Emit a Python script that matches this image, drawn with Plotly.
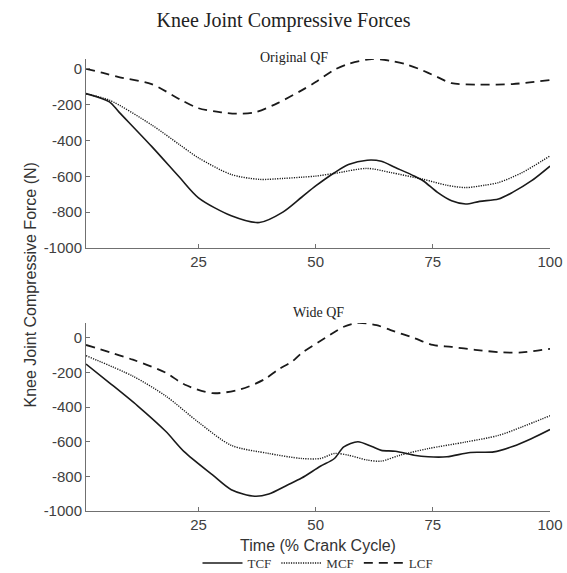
import plotly.graph_objects as go
from plotly.subplots import make_subplots

# Knee joint compressive forces over the crank cycle (N), two QF conditions.
# Original QF
orig_tcf_x = [1, 6, 8, 15, 21, 25, 32, 38, 43, 47, 50, 54, 57, 61, 64, 67, 71, 73, 76, 79, 82, 85, 89, 92, 96, 100]
orig_tcf_y = [-138, -184, -240, -433, -607, -720, -820, -858, -800, -717, -654, -580, -534, -510, -516, -551,
              -598, -626, -690, -737, -755, -740, -727, -690, -626, -543]
orig_mcf_x = [1, 6, 15, 21, 25, 32, 38, 43, 47, 50, 54, 61, 66, 73, 78, 82, 86, 89, 94, 100]
orig_mcf_y = [-140, -175, -313, -424, -497, -590, -617, -612, -605, -599, -584, -556, -579, -617, -650, -663,
              -650, -635, -580, -486]
orig_lcf_x = [1, 5, 8, 15, 21, 25, 30, 33, 37, 42, 47, 50, 54, 57, 62, 66, 69, 72, 76, 79, 85, 92, 100]
orig_lcf_y = [0, -25, -46, -85, -170, -220, -243, -250, -243, -190, -120, -74, -5, 28, 55, 45, 28, 0, -46,
              -80, -88, -85, -62]

# Wide QF
wide_tcf_x = [1, 6, 12, 18, 22, 28, 32, 37, 40, 44, 47, 51, 54, 56, 59, 62, 64, 67, 71, 74, 78, 83, 88, 92, 96, 100]
wide_tcf_y = [-152, -260, -393, -540, -659, -792, -877, -915, -902, -850, -810, -742, -697, -630, -600, -628,
              -650, -655, -678, -687, -687, -662, -659, -628, -583, -530]
wide_mcf_x = [1, 11, 18, 25, 32, 40, 47, 51, 54, 57, 61, 64, 68, 74, 82, 89, 94, 100]
wide_mcf_y = [-104, -222, -336, -488, -621, -668, -697, -697, -668, -678, -706, -712, -678, -640, -602, -564,
              -515, -450]
wide_lcf_x = [1, 11, 18, 22, 28, 34, 39, 42, 45, 47, 52, 56, 59, 63, 66, 71, 75, 79, 84, 90, 94, 100]
wide_lcf_y = [-42, -127, -202, -270, -320, -298, -241, -184, -137, -89, -2, 63, 85, 72, 44, -2, -42, -53, -70,
              -85, -85, -64]

x_ticks = [25, 50, 75, 100]
y_ticks = [0, -200, -400, -600, -800, -1000]
y_tick_text = ["0", "-200", "-400", "-600", "-800", "-1000"]

series_names = ["TCF", "MCF", "LCF"]
series_dash = ["solid", "1.2px,1.2px", "9px,6px"]
series_width = [1.6, 1.4, 1.8]

panels = [
    ("Original QF", [(orig_tcf_x, orig_tcf_y), (orig_mcf_x, orig_mcf_y), (orig_lcf_x, orig_lcf_y)]),
    ("Wide QF", [(wide_tcf_x, wide_tcf_y), (wide_mcf_x, wide_mcf_y), (wide_lcf_x, wide_lcf_y)]),
]

fig = make_subplots(rows=2, cols=1, vertical_spacing=0.166)

for row, (label, series) in enumerate(panels, start=1):
    for i, (xs, ys) in enumerate(series):
        fig.add_trace(
            go.Scatter(
                x=xs, y=ys, mode="lines", name=series_names[i],
                line=dict(color="#1a1a1a", width=series_width[i], dash=series_dash[i],
                          shape="spline", smoothing=0.8),
                showlegend=(row == 1),
            ),
            row=row, col=1,
        )
    ymax = max(max(ys) for _, ys in series)
    fig.update_yaxes(range=[-1000, ymax], row=row, col=1)

axis_common = dict(
    showgrid=False, zeroline=False, showline=True, linecolor="#707070", linewidth=1,
    ticks="inside", ticklen=4, tickcolor="#707070", automargin=False,
    tickfont=dict(family="Liberation Sans, Arial, sans-serif", size=15, color="#404040"),
)
fig.update_xaxes(range=[1, 100], tickvals=x_ticks, **axis_common)
fig.update_yaxes(tickvals=y_ticks, ticktext=y_tick_text, **axis_common)
fig.update_xaxes(title=dict(text="Time (% Crank Cycle)", standoff=7,
                            font=dict(family="Liberation Sans, Arial, sans-serif", size=16, color="#333333")),
                 row=2, col=1)

fig.update_layout(
    width=567, height=573,
    margin=dict(l=86, r=17, t=59, b=62, autoexpand=False),
    paper_bgcolor="white", plot_bgcolor="white",
    yaxis=dict(domain=[0.582, 1.0]),
    yaxis2=dict(domain=[0.0, 0.416]),
    title=dict(text="Knee Joint Compressive Forces", x=0.5, xanchor="center", y=1 - 20 / 573, yanchor="middle",
               font=dict(family="Liberation Serif, Times New Roman, serif", size=20, color="#222222")),
    legend=dict(orientation="h", x=0.5, xanchor="center", y=-0.115, yanchor="middle",
                font=dict(family="Liberation Serif, Times New Roman, serif", size=13, color="#333333"),
                itemwidth=40, tracegroupgap=0, bgcolor="rgba(0,0,0,0)"),
    annotations=[
        dict(text="Original QF", x=294, y=48, xref="paper", yref="paper", showarrow=False,
             font=dict(family="Liberation Serif, Times New Roman, serif", size=14, color="#222222")),
        dict(text="Wide QF", x=318, y=312, xref="paper", yref="paper", showarrow=False,
             font=dict(family="Liberation Serif, Times New Roman, serif", size=14, color="#222222")),
        dict(text="Knee Joint Compressive Force (N)", x=19, y=285, xref="paper", yref="paper", showarrow=False,
             textangle=-90,
             font=dict(family="Liberation Sans, Arial, sans-serif", size=16, color="#333333")),
    ],
)

# Annotation positions above are given in pixels; convert to paper fractions of the plot area.
plot_w = 567 - 86 - 17
plot_h = 573 - 59 - 62
for ann in fig.layout.annotations:
    ann.x = (ann.x - 86) / plot_w
    ann.y = (573 - 62 - ann.y) / plot_h

fig.write_html("out.html")
